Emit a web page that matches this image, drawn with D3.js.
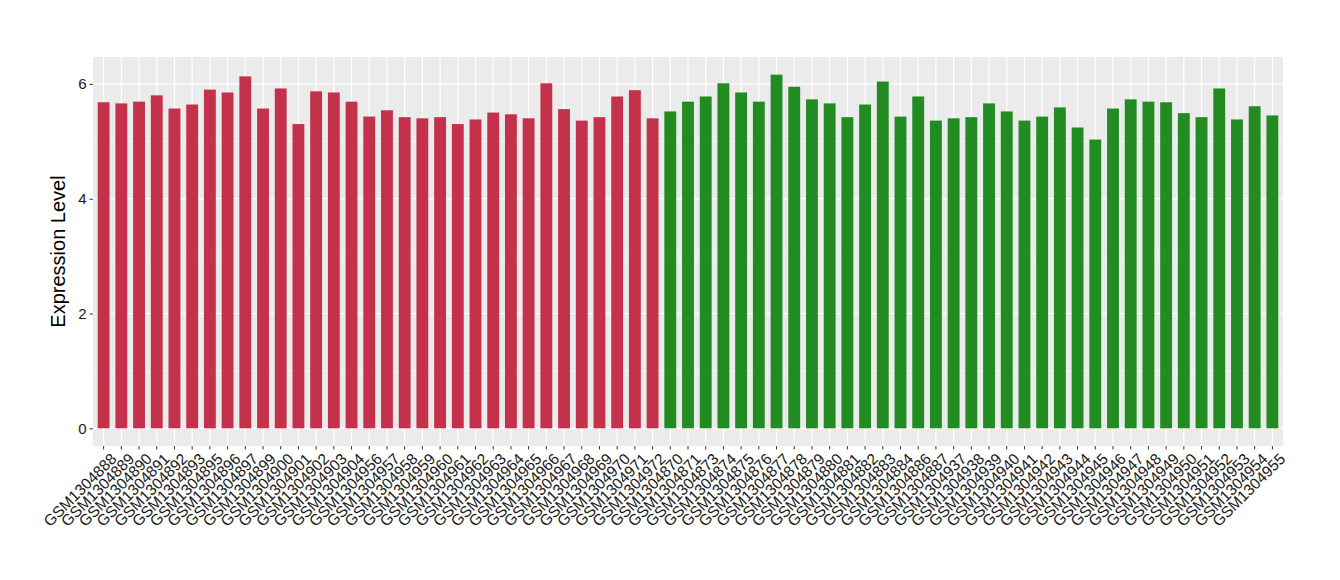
<!DOCTYPE html>
<html>
<head>
  <meta charset="utf-8">
  <title>Expression Level</title>
  <script src="https://d3js.org/d3.v7.min.js"></script>
  <style>
    body { margin: 0; background: #fff; }
    svg text { font-family: "Liberation Sans", Arial, Helvetica, sans-serif; }
  </style>
</head>
<body>
<div id="my_dataviz"></div>
<script>

// samples, in plot order
var samplesA = ["GSM1304888","GSM1304889","GSM1304890","GSM1304891","GSM1304892","GSM1304893",
  "GSM1304895","GSM1304896","GSM1304897","GSM1304899","GSM1304900","GSM1304901","GSM1304902",
  "GSM1304903","GSM1304904","GSM1304956","GSM1304957","GSM1304958","GSM1304959","GSM1304960",
  "GSM1304961","GSM1304962","GSM1304963","GSM1304964","GSM1304965","GSM1304966","GSM1304967",
  "GSM1304968","GSM1304969","GSM1304970","GSM1304971","GSM1304972"];
var valuesA = [5.68,5.66,5.69,5.80,5.57,5.64,5.90,5.85,6.13,5.57,5.92,5.30,5.87,5.85,5.69,5.43,
  5.54,5.42,5.40,5.42,5.30,5.38,5.50,5.47,5.40,6.01,5.56,5.36,5.42,5.78,5.89,5.40];

var samplesB = ["GSM1304870","GSM1304871","GSM1304873","GSM1304874","GSM1304875","GSM1304876",
  "GSM1304877","GSM1304878","GSM1304879","GSM1304880","GSM1304881","GSM1304882","GSM1304883",
  "GSM1304884","GSM1304886","GSM1304887","GSM1304937","GSM1304938","GSM1304939","GSM1304940",
  "GSM1304941","GSM1304942","GSM1304943","GSM1304944","GSM1304945","GSM1304946","GSM1304947",
  "GSM1304948","GSM1304949","GSM1304950","GSM1304951","GSM1304952","GSM1304953","GSM1304954",
  "GSM1304955"];
var valuesB = [5.52,5.69,5.78,6.01,5.85,5.69,6.16,5.95,5.73,5.66,5.42,5.64,6.04,5.43,5.78,5.36,
  5.40,5.42,5.66,5.52,5.36,5.43,5.59,5.24,5.03,5.57,5.73,5.69,5.68,5.49,5.42,5.92,5.38,5.61,5.45];

var yTicks = [0, 2, 4, 6];
var yMinor = [1, 3, 5];

var colorA = "#c4314b";
var colorB = "#228b22";

var data = samplesA.map(function(s, i) { return {id: s, v: valuesA[i], c: colorA}; })
  .concat(samplesB.map(function(s, i) { return {id: s, v: valuesB[i], c: colorB}; }));

var W = 1340, H = 580;
var panel = {left: 93, right: 1283, top: 57, bottom: 446};

var svg = d3.select("#my_dataviz")
  .append("svg")
    .attr("width", W)
    .attr("height", H);

var x = d3.scaleBand()
  .domain(data.map(function(d) { return d.id; }))
  .range([panel.left, panel.right])
  .paddingInner(0)
  .paddingOuter(0.1);

var vmax = d3.max(data, function(d) { return d.v; });
var y = d3.scaleLinear()
  .domain([-0.05 * vmax, vmax * 1.05])
  .range([panel.bottom, panel.top]);

// panel background
svg.append("rect")
  .attr("x", panel.left)
  .attr("y", panel.top)
  .attr("width", panel.right - panel.left)
  .attr("height", panel.bottom - panel.top)
  .attr("fill", "#ebebeb");

// grid
svg.append("g")
  .selectAll("line")
  .data(yMinor).enter()
  .append("line")
    .attr("x1", panel.left).attr("x2", panel.right)
    .attr("y1", function(d) { return y(d); }).attr("y2", function(d) { return y(d); })
    .attr("stroke", "#fff").attr("stroke-width", 0.6);

svg.append("g")
  .selectAll("line")
  .data(yTicks).enter()
  .append("line")
    .attr("x1", panel.left).attr("x2", panel.right)
    .attr("y1", function(d) { return y(d); }).attr("y2", function(d) { return y(d); })
    .attr("stroke", "#fff").attr("stroke-width", 1.2);

svg.append("g")
  .selectAll("line")
  .data(data).enter()
  .append("line")
    .attr("x1", function(d) { return x(d.id) + x.bandwidth() / 2; })
    .attr("x2", function(d) { return x(d.id) + x.bandwidth() / 2; })
    .attr("y1", panel.top).attr("y2", panel.bottom)
    .attr("stroke", "#fff").attr("stroke-width", 1.2);

// bars
var bw = x.bandwidth() * 0.67;
svg.append("g")
  .selectAll("rect")
  .data(data).enter()
  .append("rect")
    .attr("x", function(d) { return x(d.id) + (x.bandwidth() - bw) / 2; })
    .attr("width", bw)
    .attr("y", function(d) { return y(d.v); })
    .attr("height", function(d) { return y(0) - y(d.v); })
    .attr("fill", function(d) { return d.c; });

// y axis
var yAxis = svg.append("g")
  .attr("transform", "translate(" + panel.left + ",0)")
  .call(d3.axisLeft(y).tickValues(yTicks).tickSize(3.5).tickPadding(3).tickFormat(d3.format("d")));
yAxis.select(".domain").remove();
yAxis.selectAll(".tick line").attr("stroke", "#333");
yAxis.selectAll("text").attr("fill", "#1a1a1a").style("font-size", "15px");

// x axis
var xAxis = svg.append("g")
  .attr("transform", "translate(0," + panel.bottom + ")")
  .call(d3.axisBottom(x).tickSize(3.5).tickPadding(0));
xAxis.select(".domain").remove();
xAxis.selectAll(".tick line").attr("stroke", "#333");
xAxis.selectAll("text")
  .attr("fill", "#1a1a1a")
  .style("font-size", "15.5px")
  .attr("text-anchor", "end")
  .attr("x", 0)
  .attr("y", 0)
  .attr("dy", "0.72em")
  .attr("transform", "translate(6,6) rotate(-45)");

// y title
svg.append("text")
  .attr("transform", "translate(65," + ((panel.top + panel.bottom) / 2) + ") rotate(-90)")
  .attr("text-anchor", "middle")
  .style("font-size", "20px")
  .attr("fill", "#000")
  .text("Expression Level");

</script>
</body>
</html>
